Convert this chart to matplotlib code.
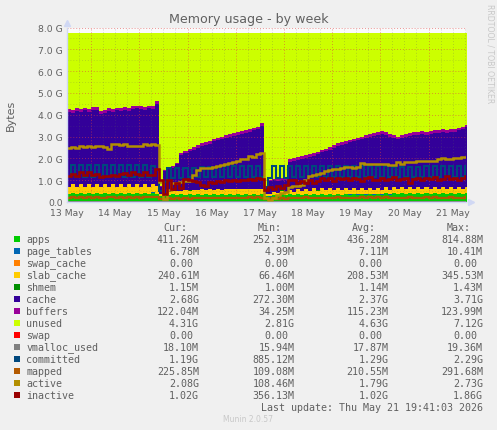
import matplotlib
matplotlib.use('Agg')
import matplotlib.pyplot as plt
from matplotlib.patches import Rectangle
from matplotlib.ticker import FixedLocator, FixedFormatter
import numpy as np

# samples every 2 hours, in days since 13 May
sample_step = 2 / 24

apps = [.38, .42, .38, .42, .38, .42, .38, .42, .38, .42,
        .38, .42, .38, .42, .38, .42, .38, .42, .38, .42,
        .38, .43, .38, .28, .26, .30, .36, .30, .36, .31,
        .37, .32, .37, .32, .37, .32, .37, .32, .37, .32,
        .38, .33, .38, .33, .38, .33, .38, .33, .38, .27,
        .25, .33, .29, .35, .30, .36, .31, .37, .32, .37,
        .32, .37, .33, .38, .33, .38, .33, .38, .33, .38,
        .34, .38, .34, .38, .34, .38, .34, .38, .34, .39,
        .34, .39, .35, .39, .35, .39, .35, .40, .35, .40,
        .36, .40, .36, .40, .36, .41, .36, .41, .36, .41]

slab_cache = [.30, .39, .30, .39, .30, .39, .30, .39, .30, .39,
              .30, .39, .31, .39, .31, .39, .31, .39, .32, .39,
              .32, .39, .33, .10, .07, .15, .12, .19, .14, .22,
              .15, .24, .17, .26, .18, .26, .19, .27, .19, .27,
              .20, .27, .20, .27, .20, .27, .20, .27, .20, .08,
              .10, .14, .12, .17, .14, .20, .16, .22, .17, .24,
              .18, .26, .19, .26, .20, .27, .20, .27, .21, .27,
              .21, .27, .22, .27, .22, .27, .22, .27, .22, .27,
              .22, .27, .22, .27, .23, .27, .23, .27, .23, .27,
              .23, .27, .23, .27, .23, .27, .24, .27, .24, .26]

buffers = [.12, .12, .12, .12, .12, .12, .12, .12, .12, .12,
           .12, .12, .12, .12, .12, .12, .12, .12, .12, .12,
           .12, .12, .12, .03, .05, .06, .07, .08, .09, .10,
           .11, .11, .12, .12, .12, .12, .12, .12, .12, .12,
           .12, .12, .12, .12, .12, .12, .12, .12, .12, .03,
           .05, .06, .07, .08, .09, .10, .11, .11, .12, .12,
           .12, .12, .12, .12, .12, .12, .12, .12, .12, .12,
           .12, .12, .12, .12, .12, .12, .12, .12, .12, .12,
           .12, .12, .12, .12, .12, .12, .12, .12, .12, .12,
           .12, .12, .12, .12, .12, .12, .12, .12, .12, .12]

# top of apps..buffers stack, cache is what is left between
stack_top = [4.25, 4.20, 4.30, 4.25, 4.32, 4.25, 4.35, 4.35, 4.15, 4.22,
             4.30, 4.25, 4.32, 4.30, 4.35, 4.30, 4.38, 4.42, 4.40, 4.36,
             4.42, 4.40, 4.62, .72, 1.45, 1.55, 1.65, 1.80, 2.25, 2.35,
             2.45, 2.50, 2.60, 2.70, 2.75, 2.80, 2.90, 2.95, 3.00, 3.05,
             3.10, 3.15, 3.20, 3.25, 3.30, 3.35, 3.40, 3.45, 3.62, .70,
             1.00, 1.05, 1.05, 1.10, 1.10, 1.95, 2.00, 2.05, 2.10, 2.15,
             2.20, 2.25, 2.30, 2.40, 2.45, 2.50, 2.60, 2.70, 2.75, 2.80,
             2.85, 2.90, 2.95, 3.00, 3.05, 3.10, 3.15, 3.20, 3.25, 3.20,
             3.10, 3.05, 3.00, 3.05, 3.10, 3.15, 3.20, 3.20, 3.25, 3.20,
             3.25, 3.30, 3.30, 3.35, 3.30, 3.35, 3.35, 3.40, 3.45, 3.55]

page_tables = [.007] * 100
swap_cache = [0.0] * 100
shmem = [.001] * 100
swap = [0.0] * 100
vmalloc_used = [.018] * 100
total_mem = 7.75

committed = [1.15, 1.70, 1.15, 1.70, 1.15, 1.68, 1.15, 1.70, 1.15, 1.68,
             1.15, 1.70, 1.15, 1.68, 1.15, 1.70, 1.15, 1.68, 1.15, 1.70,
             1.15, 1.65, 1.45, .50, .90, 1.55, 1.10, 1.55, 1.10, 1.55,
             1.15, 1.58, 1.15, 1.60, 1.15, 1.60, 1.15, 1.62, 1.15, 1.65,
             1.15, 1.65, 1.15, 1.65, 1.15, 1.65, 1.15, 1.65, 1.15, .70,
             1.10, 1.65, 1.10, 1.65, 1.10, 1.65, 1.15, 1.65, 1.15, 1.65,
             1.15, 1.65, 1.15, 1.65, 1.15, 1.65, 1.15, 1.65, 1.15, 1.65,
             1.15, 1.65, 1.15, 1.65, 1.15, 1.65, 1.15, 1.65, 1.15, 1.65,
             1.15, 1.60, 1.15, 1.60, 1.15, 1.60, 1.15, 1.60, 1.15, 1.65,
             1.15, 1.65, 1.15, 1.65, 1.15, 1.65, 1.15, 1.65, 1.15, 1.65]

mapped = [.19, .21, .19, .22, .20, .21, .20, .23, .19, .20,
          .21, .23, .20, .21, .20, .22, .20, .23, .20, .22,
          .22, .24, .23, .13, .12, .19, .16, .18, .16, .18,
          .16, .18, .17, .20, .18, .19, .17, .19, .18, .20,
          .18, .20, .18, .19, .19, .21, .19, .21, .20, .14,
          .12, .17, .15, .19, .16, .20, .17, .20, .17, .22,
          .17, .19, .17, .20, .18, .19, .18, .21, .18, .20,
          .17, .20, .18, .22, .19, .21, .18, .21, .20, .22,
          .19, .20, .18, .20, .20, .21, .17, .20, .19, .23,
          .19, .22, .18, .20, .19, .21, .18, .20, .20, .22]

active = [2.47, 2.50, 2.47, 2.55, 2.50, 2.55, 2.50, 2.55, 2.55, 2.50,
          2.45, 2.65, 2.65, 2.60, 2.65, 2.55, 2.55, 2.55, 2.55, 2.65,
          2.60, 2.65, 2.62, .90, .12, .55, .85, .85, .90, .95,
          .95, 1.25, 1.45, 1.55, 1.55, 1.55, 1.60, 1.65, 1.70, 1.75,
          1.80, 1.85, 1.90, 1.95, 1.95, 2.10, 2.05, 2.20, 2.25, .20,
          .10, .20, .30, .40, .45, .70, .72, .75, .80, 1.00,
          1.20, 1.25, 1.30, 1.35, 1.40, 1.45, 1.50, 1.50, 1.55, 1.60,
          1.60, 1.55, 1.60, 1.80, 1.75, 1.75, 1.75, 1.75, 1.75, 1.75,
          1.70, 1.70, 1.85, 1.75, 1.85, 1.85, 1.85, 1.90, 1.90, 1.90,
          1.88, 1.90, 1.95, 2.00, 1.95, 1.95, 2.02, 2.02, 2.05, 2.08]

inactive = [1.20, 1.28, 1.18, 1.36, 1.22, 1.38, 1.24, 1.30, 1.15, 1.20,
            1.18, 1.25, 1.18, 1.30, 1.34, 1.25, 1.36, 1.28, 1.25, 1.38,
            1.22, 1.25, 1.50, 1.00, .35, 1.00, .60, .85, .65, 1.05,
            1.02, .95, .90, .80, .72, .90, .85, .95, .90, 1.00,
            .95, 1.02, .95, 1.02, 1.00, 1.05, 1.00, 1.08, 1.05, .55,
            .70, .58, .75, .65, .80, 1.02, 1.00, .88, .95, .88,
            1.00, .88, .95, 1.08, 1.00, 1.08, .95, 1.12, 1.05, 1.08,
            1.00, 1.12, 1.05, .98, 1.08, 1.15, 1.00, 1.02, 1.12, 1.00,
            1.05, 1.15, 1.00, 1.05, 1.12, .88, 1.05, 1.08, 1.00, 1.08,
            1.05, 1.15, 1.00, 1.05, 1.20, 1.05, 1.12, 1.02, 1.08, 1.20]

day_labels = ['13 May', '14 May', '15 May', '16 May', '17 May',
              '18 May', '19 May', '20 May', '21 May']
y_labels = ['0.0', '1.0 G', '2.0 G', '3.0 G', '4.0 G', '5.0 G', '6.0 G', '7.0 G', '8.0 G']

legend_names = ['apps', 'page_tables', 'swap_cache', 'slab_cache', 'shmem', 'cache', 'buffers',
                'unused', 'swap', 'vmalloc_used', 'committed', 'mapped', 'active', 'inactive']
legend_colors = ['#00CC00', '#0066B3', '#FF8000', '#FFCC00', '#008F00', '#330099', '#990099',
                 '#CCFF00', '#FF0000', '#808080', '#00487D', '#B35A00', '#B38F00', '#990000']
cur_vals = ['411.26M', '6.78M', '0.00', '240.61M', '1.15M', '2.68G', '122.04M',
            '4.31G', '0.00', '18.10M', '1.19G', '225.85M', '2.08G', '1.02G']
min_vals = ['252.31M', '4.99M', '0.00', '66.46M', '1.00M', '272.30M', '34.25M',
            '2.81G', '0.00', '15.94M', '885.12M', '109.08M', '108.46M', '356.13M']
avg_vals = ['436.28M', '7.11M', '0.00', '208.53M', '1.14M', '2.37G', '115.23M',
            '4.63G', '0.00', '17.87M', '1.29G', '210.55M', '1.79G', '1.02G']
max_vals = ['814.88M', '10.41M', '0.00', '345.53M', '1.43M', '3.71G', '123.99M',
            '7.12G', '0.00', '19.36M', '2.29G', '291.68M', '2.73G', '1.86G']

W, H = 497, 431
bg = '#f0f0f0'
fig = plt.figure(figsize=(W / 100, H / 100), dpi=100, facecolor=bg)
ax = fig.add_axes([67 / W, 1 - 203 / H, 399 / W, 174.5 / H], facecolor='#fafafa')

n = len(apps)
x = np.arange(n + 1) * sample_step
def ext(a):
    a = np.asarray(a, dtype=float)
    return np.append(a, a[-1])

below = ext(apps) + ext(page_tables) + ext(swap_cache)
slab_top = below + ext(slab_cache)
shmem_top = slab_top + ext(shmem)
buf_bottom = ext(stack_top) - ext(buffers)
top = ext(stack_top)
unused_top = ext([total_mem] * n)

def area(y0, y1, c):
    ax.fill_between(x, y0, y1, step='post', color=c, lw=0, zorder=1)

area(0, ext(apps), legend_colors[0])
area(ext(apps), below, legend_colors[1])
area(below, slab_top, legend_colors[3])
area(slab_top, shmem_top, legend_colors[4])
area(shmem_top, buf_bottom, legend_colors[5])
area(buf_bottom, top, legend_colors[6])
area(top, unused_top, legend_colors[7])

for vals, c, lw in [(vmalloc_used, legend_colors[9], 1.45), (committed, legend_colors[10], 1.45),
                    (mapped, legend_colors[11], 1.7), (active, legend_colors[12], 1.8),
                    (inactive, legend_colors[13], 1.9)]:
    ax.step(x, ext(vals), where='post', color=c, lw=lw, zorder=2, solid_joinstyle='miter')

ax.set_xlim(0, 399 / 48.2)
ax.set_ylim(0, 8)

ax.xaxis.set_major_locator(FixedLocator(np.arange(9)))
ax.xaxis.set_major_formatter(FixedFormatter(day_labels))
ax.set_yticks(np.arange(9))
ax.set_yticklabels(y_labels)
ax.tick_params(axis='both', length=0, labelsize=6.7, labelcolor='#606060', pad=3)
ax.tick_params(axis='x', pad=4)

# grid sits on the areas but under the lines
dot = (0, (1, 2))
for d in np.arange(0, 8.3, 0.25):
    major = abs((d - 0.5) % 1) < 1e-6
    ax.axvline(d, color='#e04040' if major else '#606060', alpha=0.55 if major else 0.28,
               lw=0.7, ls=dot, zorder=1.5)
for v in np.arange(0.5, 8.1, 0.5):
    major = v % 1 == 0
    ax.axhline(v, color='#e04040' if major else '#606060', alpha=0.55 if major else 0.22,
               lw=0.7, ls=dot, zorder=1.5, clip_on=False)

for s in ['top', 'right']:
    ax.spines[s].set_visible(False)
for s in ['left', 'bottom']:
    ax.spines[s].set_color('#d0d8f4')
    ax.spines[s].set_linewidth(1)
ax.plot([0], [1.026], marker='^', ms=4.5, color='#d0d8f4', transform=ax.transAxes, clip_on=False)
ax.plot([1.012], [0], marker='>', ms=4.5, color='#d0d8f4', transform=ax.transAxes, clip_on=False)

def px_text(px, py, s, **kw):
    kw.setdefault('va', 'center')
    return fig.text(px / W, 1 - py / H, s, **kw)

px_text(248.5, 20, 'Memory usage - by week', fontsize=9.1, color='#606060', ha='center')
px_text(11, 115, 'Bytes', fontsize=8, color='#606060', rotation=90, ha='center')
px_text(490, 53.5, 'RRDTOOL / TOBI OETIKER', fontsize=5.6, color='#c8c8c8', rotation=270, ha='center')

mono = dict(family='DejaVu Sans Mono', fontsize=7.2, color='#606060')
columns = [(199, cur_vals), (294.3, min_vals), (388.3, avg_vals), (483, max_vals)]
for left, label in [(163, 'Cur:'), (257.7, 'Min:'), (352, 'Avg:'), (446.7, 'Max:')]:
    px_text(left, 227.7, label, ha='left', **mono)

for i, name in enumerate(legend_names):
    py = 239.7 + 12 * i
    fig.add_artist(Rectangle((14 / W, 1 - (py + 3) / H), 6 / W, 6 / H, color=legend_colors[i],
                             transform=fig.transFigure, lw=0))
    px_text(26.3, py, name, ha='left', **mono)
    for right, vals in columns:
        s = vals[i]
        # plain zeros have no unit so they sit one character to the left
        r = right if s[-1] in 'MG' else right - 6
        px_text(r, py, s, ha='right', **mono)

px_text(483, 407.7, 'Last update: Thu May 21 19:41:03 2026', ha='right', **mono)
px_text(248, 420, 'Munin 2.0.57', fontsize=5.5, color='#c8c8c8', ha='center')

fig.savefig('out.png', dpi=100, facecolor=bg)
